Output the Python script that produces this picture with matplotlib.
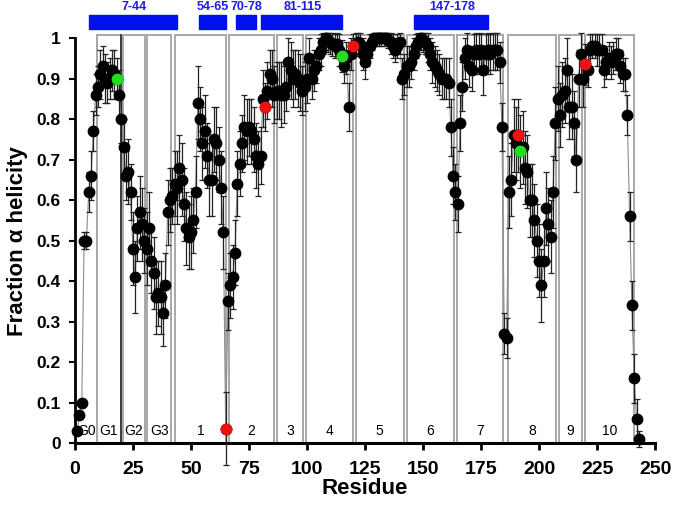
import matplotlib
matplotlib.use("Agg")
import matplotlib.pyplot as plt
from matplotlib.patches import Rectangle
import numpy as np

plt.rcParams['font.family'] = ['Liberation Sans', 'DejaVu Sans']

# fraction helicity per residue (1..243)
helicity = [
    0.03, 0.07, 0.10, 0.50, 0.50, 0.62, 0.66, 0.77, 0.86, 0.88,
    0.91, 0.93, 0.90, 0.89, 0.90, 0.92, 0.91, 0.90, 0.86, 0.80,
    0.73, 0.66, 0.67, 0.62, 0.48, 0.41, 0.53, 0.57, 0.54, 0.50,
    0.48, 0.53, 0.45, 0.42, 0.36, 0.37, 0.36, 0.32, 0.39, 0.57,
    0.60, 0.61, 0.64, 0.63, 0.68, 0.65, 0.59, 0.53, 0.51, 0.52,
    0.55, 0.62, 0.84, 0.80, 0.74, 0.77, 0.71, 0.65, 0.65, 0.75,
    0.74, 0.70, 0.63, 0.52, 0.035, 0.35, 0.39, 0.41, 0.47, 0.64,
    0.69, 0.74, 0.78, 0.77, 0.78, 0.77, 0.75, 0.71, 0.69, 0.71,
    0.85, 0.83, 0.87, 0.91, 0.90, 0.86, 0.87, 0.87, 0.86, 0.86,
    0.88, 0.94, 0.92, 0.90, 0.91, 0.90, 0.89, 0.87, 0.88, 0.90,
    0.95, 0.90, 0.92, 0.93, 0.96, 0.97, 0.99, 1.00, 0.995, 0.99,
    0.985, 0.98, 0.985, 0.97, 0.955, 0.93, 0.95, 0.83, 0.96, 0.98,
    0.985, 0.99, 0.985, 0.96, 0.94, 0.96, 0.98, 0.99, 1.00, 1.00,
    1.00, 1.00, 1.00, 1.00, 0.995, 0.99, 0.98, 0.97, 0.98, 0.99,
    0.90, 0.91, 0.93, 0.93, 0.94, 0.96, 0.98, 0.99, 1.00, 0.995,
    0.99, 0.98, 0.96, 0.94, 0.93, 0.92, 0.91, 0.90, 0.90, 0.90,
    0.89, 0.78, 0.66, 0.62, 0.59, 0.79, 0.88, 0.95, 0.97, 0.93,
    0.92, 0.96, 0.97, 0.96, 0.97, 0.92, 0.96, 0.97, 0.96, 0.97,
    0.97, 0.97, 0.94, 0.78, 0.27, 0.26, 0.62, 0.65, 0.76, 0.74,
    0.76, 0.72, 0.73, 0.68, 0.67, 0.60, 0.60, 0.55, 0.50, 0.45,
    0.39, 0.45, 0.58, 0.54, 0.51, 0.62, 0.79, 0.85, 0.81, 0.86,
    0.87, 0.92, 0.83, 0.83, 0.79, 0.70, 0.90, 0.96, 0.90, 0.935,
    0.92, 0.97, 0.98, 0.98, 0.97, 0.97, 0.97, 0.92, 0.94, 0.95,
    0.94, 0.95, 0.96, 0.96, 0.93, 0.91, 0.91, 0.81, 0.56, 0.34,
    0.16, 0.06, 0.01,
]

errors = [
    0.01, 0.01, 0.01, 0.02, 0.02, 0.05, 0.06, 0.05, 0.05, 0.05,
    0.06, 0.05, 0.06, 0.05, 0.05, 0.05, 0.06, 0.05, 0.06, 0.06,
    0.07, 0.06, 0.08, 0.07, 0.09, 0.09, 0.08, 0.09, 0.09, 0.08,
    0.09, 0.09, 0.08, 0.09, 0.09, 0.08, 0.09, 0.08, 0.08, 0.08,
    0.08, 0.07, 0.08, 0.09, 0.08, 0.09, 0.09, 0.09, 0.08, 0.09,
    0.08, 0.09, 0.09, 0.08, 0.09, 0.09, 0.08, 0.09, 0.09, 0.08,
    0.09, 0.08, 0.09, 0.09, 0.09, 0.07, 0.08, 0.08, 0.08, 0.08,
    0.08, 0.07, 0.08, 0.08, 0.07, 0.08, 0.08, 0.08, 0.08, 0.07,
    0.07, 0.06, 0.07, 0.06, 0.07, 0.07, 0.07, 0.07, 0.08, 0.07,
    0.06, 0.06, 0.07, 0.07, 0.06, 0.07, 0.07, 0.06, 0.06, 0.06,
    0.05, 0.05, 0.05, 0.04, 0.04, 0.04, 0.03, 0.03, 0.03, 0.03,
    0.03, 0.03, 0.03, 0.04, 0.04, 0.04, 0.04, 0.06, 0.04, 0.03,
    0.03, 0.03, 0.03, 0.04, 0.04, 0.03, 0.03, 0.02, 0.02, 0.02,
    0.02, 0.02, 0.02, 0.02, 0.02, 0.03, 0.03, 0.03, 0.03, 0.03,
    0.05, 0.05, 0.05, 0.05, 0.04, 0.04, 0.03, 0.03, 0.03, 0.03,
    0.03, 0.04, 0.04, 0.05, 0.05, 0.05, 0.05, 0.05, 0.05, 0.05,
    0.06, 0.07, 0.07, 0.07, 0.07, 0.07, 0.06, 0.05, 0.05, 0.05,
    0.05, 0.05, 0.05, 0.05, 0.05, 0.06, 0.05, 0.05, 0.05, 0.05,
    0.05, 0.05, 0.05, 0.06, 0.05, 0.05, 0.09, 0.09, 0.09, 0.09,
    0.09, 0.09, 0.09, 0.09, 0.09, 0.09, 0.09, 0.09, 0.09, 0.09,
    0.09, 0.09, 0.09, 0.09, 0.09, 0.09, 0.09, 0.08, 0.08, 0.08,
    0.08, 0.08, 0.08, 0.08, 0.08, 0.08, 0.07, 0.06, 0.07, 0.05,
    0.04, 0.04, 0.03, 0.03, 0.04, 0.04, 0.04, 0.04, 0.04, 0.04,
    0.04, 0.04, 0.04, 0.04, 0.04, 0.04, 0.04, 0.05, 0.06, 0.06,
    0.06, 0.05, 0.02,
]

residues = np.arange(1, len(helicity) + 1)

red_residues = [65, 82, 120, 191, 220]
green_residues = [18, 115, 192]

# boxed regions: (start, end, label)
box_start = [9.5, 20.7, 31.2, 43.2, 66.4, 87.2, 99.4, 121.0, 142.9, 164.6, 186.6, 208.5, 220.0]
box_end = [19.8, 30.2, 41.4, 65.0, 85.9, 98.1, 119.9, 141.7, 163.3, 184.4, 207.4, 218.6, 240.8]
box_labels = ["G1", "G2", "G3", "1", "2", "3", "4", "5", "6", "7", "8", "9", "10"]
g0_label_pos = 5

# helices at the top
helix_start = [7, 54, 70, 81, 147]
helix_end = [44, 65, 78, 115, 178]

fig = plt.figure(figsize=(6.74, 5.07), dpi=100)
ax = fig.add_axes([0.111, 0.126, 0.861, 0.799])

y = np.array(helicity)
e = np.array(errors)
e_hi = np.minimum(e, np.maximum(1.012 - y, 0.0))

for s, t in zip(box_start, box_end):
    ax.add_patch(Rectangle((s, 0), t - s, 1.008, fill=False,
                           edgecolor='#a8a8a8', lw=1.4, clip_on=False, zorder=1))
ax.plot([19.8, 19.8], [0, 1.008], color='#333333', lw=1.3, zorder=1, clip_on=False)

ax.plot(residues, y, color='#8c8c8c', lw=0.8, zorder=2, clip_on=False)
ax.errorbar(residues, y, yerr=[e, e_hi], fmt='none', ecolor='#222222',
            elinewidth=0.9, capsize=2.2, capthick=0.9, zorder=3, clip_on=False)
ax.plot(residues, y, 'o', color='black', ms=7.5, zorder=4, clip_on=False)

for r in red_residues:
    ax.plot(r, helicity[r - 1], 'o', color='#ee1111', ms=7.5, zorder=5, clip_on=False)
for r in green_residues:
    ax.plot(r, helicity[r - 1], 'o', color='#22dd22', ms=7.5, zorder=5, clip_on=False)

ax.text(g0_label_pos, 0.012, "G0", ha='center', va='bottom', fontsize=10)
for s, t, lab in zip(box_start, box_end, box_labels):
    ax.text((s + t) / 2, 0.012, lab, ha='center', va='bottom', fontsize=10)

for s, t in zip(helix_start, helix_end):
    ax.add_patch(Rectangle((s - 0.7, 1.022), t - s + 0.7, 0.035, facecolor='#0010ee',
                           edgecolor='#0010ee', clip_on=False, zorder=1))
    ax.text((s + t) / 2, 1.062, f"{s}-{t}", ha='center', va='bottom', fontsize=9,
            color='#1a1ae6', fontweight='bold')

ax.set_xlim(0, 250)
ax.set_ylim(0, 1)
ax.set_xticks(np.arange(0, 251, 25))
ax.set_yticks(np.arange(0, 1.01, 0.1))
ax.set_yticklabels(["0", "0.1", "0.2", "0.3", "0.4", "0.5", "0.6", "0.7", "0.8", "0.9", "1"])
for lab in ax.get_xticklabels():
    lab.set_fontweight('bold')
for lab in ax.get_yticklabels():
    lab.set_fontweight('bold')
ax.tick_params(axis='x', labelsize=14, width=2, length=5, direction='out', pad=8)
ax.tick_params(axis='y', labelsize=12.5, width=1.5, length=4, direction='out', pad=6)
ax.spines['top'].set_visible(False)
ax.spines['right'].set_visible(False)
ax.spines['left'].set_linewidth(2)
ax.spines['bottom'].set_linewidth(2.2)

ax.set_xlabel("Residue", fontsize=16, fontweight='bold', labelpad=0)
ax.set_ylabel("Fraction α helicity", fontsize=16, fontweight='bold', labelpad=6)

fig.savefig("out.png", dpi=100)
